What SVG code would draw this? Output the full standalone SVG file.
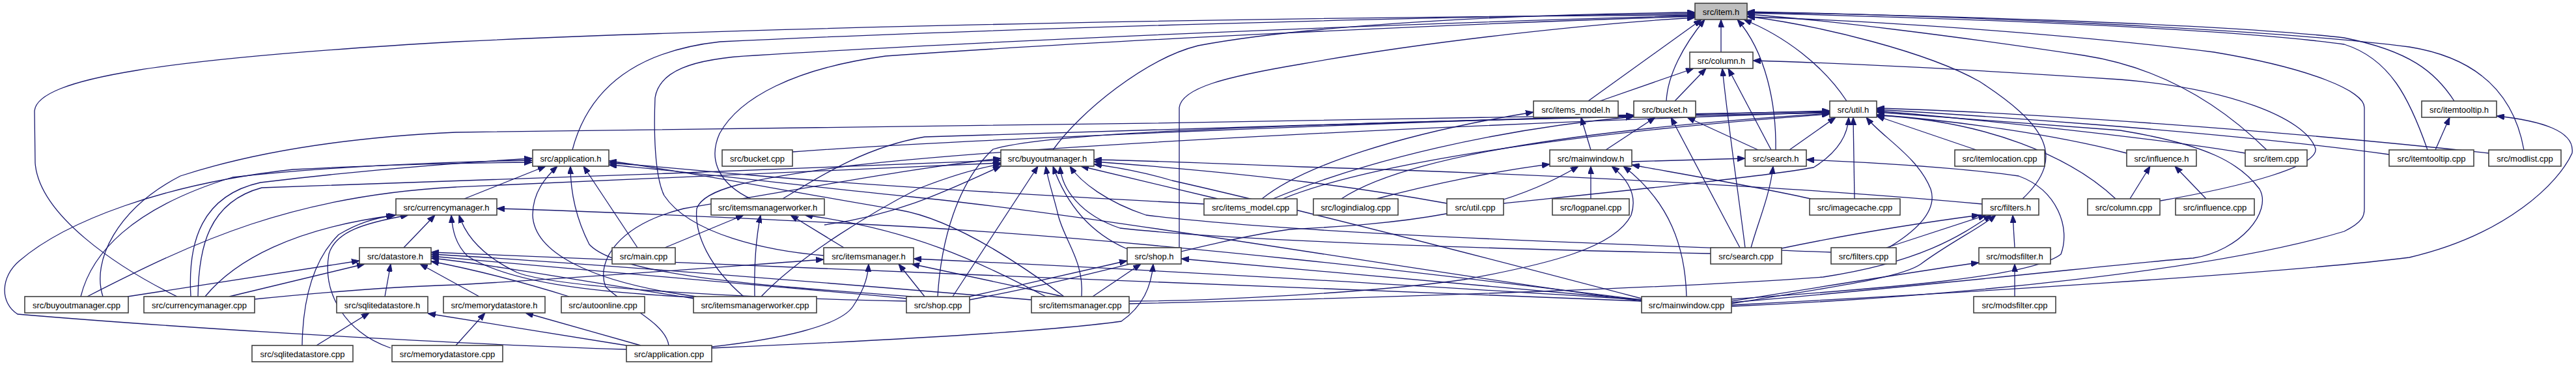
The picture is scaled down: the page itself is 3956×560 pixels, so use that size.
<svg xmlns="http://www.w3.org/2000/svg" width="3956" height="560" viewBox="0 0 3956 560">
<style>
.e{fill:none;stroke:#191970;stroke-width:1.3;marker-end:url(#ah)}
.n rect{fill:#fff;stroke:#404040;stroke-width:1.6}
.n text{font-family:"Liberation Sans",Arial,sans-serif;font-size:13px;fill:#000;text-anchor:middle}
.root rect{fill:#bfbfbf}
</style>
<defs>
<marker id="ah" markerWidth="12" markerHeight="9" refX="12" refY="4.5" orient="auto" markerUnits="userSpaceOnUse">
<path d="M0,0 L12,4.5 L0,9 z" fill="#191970" stroke="#191970" stroke-width="1"/>
</marker>
</defs>
<rect width="3956" height="560" fill="#fff"/>
<g id="edges">
<path class="e" d="M2643,80 L2643,30"/>
<path class="e" d="M2439,155 L2613,30"/>
<path class="e" d="M2559,155 C2561,115 2585,70 2618,30"/>
<path class="e" d="M2727,230 C2728,160 2712,80 2668,30"/>
<path class="e" d="M2836,155 C2800,100 2740,55 2678,30"/>
<path class="e" d="M3106,305 C3175,240 3140,190 3040,125 C2960,80 2800,40 2683,25"/>
<path class="e" d="M3481,230 C3420,170 3330,105 3200,85 C3000,55 2800,30 2683,22"/>
<path class="e" d="M3728,230 C3700,150 3670,90 3600,68 C3400,40 2900,25 2683,20"/>
<path class="e" d="M3769,155 C3740,110 3700,78 3600,58 C3400,35 2900,22 2683,19"/>
<path class="e" d="M3876,230 C3860,140 3800,88 3700,72 C3450,40 2900,22 2683,18"/>
<path class="e" d="M2659,470 C3000,455 3400,415 3600,355 C3630,340 3631,330 3631,320 L3631,165 C3631,140 3550,105 3400,80 C3200,55 2900,32 2683,26"/>
<path class="e" d="M879,230 C900,150 960,80 1106,64 C1500,45 2200,25 2603,21"/>
<path class="e" d="M1617,230 C1660,170 1760,90 1840,70 C2000,40 2300,22 2603,19"/>
<path class="e" d="M1811,380 L1811,165 C1815,135 1880,118 2000,98 C2200,62 2450,36 2603,27"/>
<path class="e" d="M272,455 C180,410 60,330 54,250 L53,170 C58,120 250,90 700,64 C1200,40 2000,26 2603,23"/>
<path class="e" d="M1265,392 C1180,385 1060,360 1020,300 C1005,270 1004,200 1006,150 C1012,110 1060,90 1160,85 C1400,70 2000,40 2603,24"/>
<path class="e" d="M1153,305 C1110,285 1085,250 1105,205 C1135,150 1220,105 1360,86 C1700,62 2200,38 2603,25"/>
<path class="e" d="M2457,155 L2601,105"/>
<path class="e" d="M2572,155 L2620,105"/>
<path class="e" d="M2680,380 C2670,300 2655,200 2645,105"/>
<path class="e" d="M2720,230 L2654,105"/>
<path class="e" d="M3318,308 C3450,285 3560,255 3556,228 C3540,180 3420,135 3256,122 C3000,105 2800,96 2692,93"/>
<path class="e" d="M2443,230 L2428,180"/>
<path class="e" d="M1938,305 C2000,255 2150,205 2355,172"/>
<path class="e" d="M2466,230 L2542,180"/>
<path class="e" d="M2672,380 L2566,180"/>
<path class="e" d="M2700,230 L2591,180"/>
<path class="e" d="M1217,233 C1500,212 2200,186 2509,177"/>
<path class="e" d="M1955,305 C2100,245 2300,198 2509,179"/>
<path class="e" d="M158,455 C140,400 180,320 277,270 C400,230 550,210 700,203 C1200,195 2300,185 2810,171"/>
<path class="e" d="M1440,455 C1445,370 1470,280 1525,229 C1600,205 1900,190 2810,173"/>
<path class="e" d="M1202,305 C1260,270 1330,225 1420,210 C1800,195 2400,182 2810,170"/>
<path class="e" d="M2060,305 C2150,245 2400,200 2810,174"/>
<path class="e" d="M1970,305 C2100,252 2400,205 2810,175"/>
<path class="e" d="M1142,455 C1090,410 1066,360 1070,320 C1080,290 1150,275 1300,255 C1600,220 2300,190 2810,172"/>
<path class="e" d="M2748,230 L2819,180"/>
<path class="e" d="M2309,312 C2500,292 2700,272 2785,257 C2825,232 2838,205 2839,180"/>
<path class="e" d="M2848,305 L2846,180"/>
<path class="e" d="M2900,380 C2950,350 2975,320 2965,290 C2945,240 2890,210 2866,180"/>
<path class="e" d="M2659,464 C3000,435 3300,400 3368,396 C3440,385 3490,325 3470,290 C3440,250 3390,222 3256,200 C3050,185 2950,178 2882,172"/>
<path class="e" d="M3035,230 L2882,178"/>
<path class="e" d="M3266,235 C3150,205 3000,185 2882,176"/>
<path class="e" d="M3249,305 C3180,240 3050,185 2882,177"/>
<path class="e" d="M3448,235 C3300,210 3000,180 2882,170"/>
<path class="e" d="M3669,237 C3400,200 3000,175 2882,168"/>
<path class="e" d="M3822,235 C3500,200 3100,172 2882,166"/>
<path class="e" d="M3740,230 L3762,180"/>
<path class="e" d="M2659,468 C3000,450 3500,420 3700,395 C3850,360 3930,280 3950,235 C3955,200 3900,185 3834,178"/>
<path class="e" d="M124,455 C140,390 200,320 357,272 C500,256 650,249 817,246"/>
<path class="e" d="M293,455 C288,370 310,300 400,280 C550,262 700,250 817,243"/>
<path class="e" d="M962,536 C700,528 300,505 27,482 C0,465 0,425 30,400 C100,340 250,282 450,260 C600,252 700,250 817,249"/>
<path class="e" d="M713,305 L838,255"/>
<path class="e" d="M1069,455 C900,432 820,385 818,330 C818,295 838,272 856,255"/>
<path class="e" d="M979,380 L896,255"/>
<path class="e" d="M1400,455 C1200,440 950,425 905,375 C882,330 876,290 876,255"/>
<path class="e" d="M1634,455 C1560,400 1460,335 1380,322 C1200,292 1050,262 935,247"/>
<path class="e" d="M1849,313 C1600,300 1300,282 1146,268 C1050,260 1000,254 935,250"/>
<path class="e" d="M2521,462 C2200,420 1700,332 1400,302 C1200,282 1050,262 935,253"/>
<path class="e" d="M134,455 C300,370 450,300 700,287 C1000,276 1300,262 1537,250"/>
<path class="e" d="M304,455 C305,380 320,310 402,288 C700,276 1200,262 1537,246"/>
<path class="e" d="M1027,530 C1022,495 960,470 930,440 C915,400 950,345 1050,320 C1250,287 1400,258 1537,243"/>
<path class="e" d="M1169,455 C1230,390 1350,320 1409,290 C1460,270 1500,258 1537,252"/>
<path class="e" d="M1266,345 C1380,330 1460,290 1537,255"/>
<path class="e" d="M1463,455 L1594,255"/>
<path class="e" d="M1661,455 C1665,400 1635,370 1625,330 C1618,300 1610,280 1606,255"/>
<path class="e" d="M1731,382 C1680,360 1640,320 1617,255"/>
<path class="e" d="M2627,389 C2300,382 1900,370 1720,350 C1660,330 1630,290 1628,255"/>
<path class="e" d="M2812,387 C2500,375 2000,360 1760,330 C1700,310 1660,280 1643,255"/>
<path class="e" d="M1870,305 L1660,255"/>
<path class="e" d="M3044,313 C2800,290 2400,268 2000,256 C1850,250 1750,246 1680,245"/>
<path class="e" d="M2521,458 C2300,400 2000,322 1800,277 C1750,262 1710,256 1680,252"/>
<path class="e" d="M2222,312 C2100,290 1950,268 1680,248"/>
<path class="e" d="M2443,305 L2443,255"/>
<path class="e" d="M2590,455 C2588,380 2565,310 2493,255"/>
<path class="e" d="M2114,305 C2200,282 2300,262 2380,252"/>
<path class="e" d="M2781,305 C2700,287 2600,270 2506,253"/>
<path class="e" d="M1734,462 C1850,462 2100,450 2248,429 C2380,405 2480,380 2505,330 C2515,300 2500,275 2475,255"/>
<path class="e" d="M1489,460 C1700,420 1850,370 1980,352 C2150,343 2300,330 2424,255"/>
<path class="e" d="M2506,248 L2680,243"/>
<path class="e" d="M2689,380 C2700,340 2718,300 2723,255"/>
<path class="e" d="M2659,459 C2900,442 3120,425 3165,390 C3180,350 3160,292 3100,270 C3000,256 2850,248 2774,245"/>
<path class="e" d="M3271,305 L3302,255"/>
<path class="e" d="M3388,305 L3340,255"/>
<path class="e" d="M620,380 L668,330"/>
<path class="e" d="M464,530 C465,460 480,400 520,360 C550,342 575,335 605,330"/>
<path class="e" d="M600,534 C530,510 495,450 505,390 C515,355 560,342 627,330"/>
<path class="e" d="M315,455 C360,400 450,350 608,330"/>
<path class="e" d="M1065,456 C900,448 780,432 718,393 C700,375 695,355 693,330"/>
<path class="e" d="M1392,462 C1100,456 850,440 794,418 C740,392 715,362 705,330"/>
<path class="e" d="M2521,460 C2200,420 1800,372 1400,348 C1100,332 900,324 763,320"/>
<path class="e" d="M1021,380 L1142,330"/>
<path class="e" d="M1159,455 C1158,410 1160,370 1168,330"/>
<path class="e" d="M1296,380 L1214,330"/>
<path class="e" d="M1606,455 C1500,400 1400,352 1236,330"/>
<path class="e" d="M3094,380 L3091,330"/>
<path class="e" d="M2736,381 C2850,357 2950,342 3040,330"/>
<path class="e" d="M2897,380 L3050,330"/>
<path class="e" d="M2659,466 C2800,442 2920,427 2950,405 C2990,375 3040,350 3065,330"/>
<path class="e" d="M1734,466 C2200,455 2600,440 2800,425 C2950,402 3010,362 3058,330"/>
<path class="e" d="M2659,462 C2800,440 2950,415 3039,403"/>
<path class="e" d="M3094,455 L3094,405"/>
<path class="e" d="M591,455 L600,405"/>
<path class="e" d="M736,455 L645,405"/>
<path class="e" d="M196,455 L552,400"/>
<path class="e" d="M352,455 L560,405"/>
<path class="e" d="M874,455 C800,432 720,412 662,401"/>
<path class="e" d="M1065,458 C900,432 750,405 662,396"/>
<path class="e" d="M1392,458 C1100,430 800,404 662,393"/>
<path class="e" d="M1584,460 C1200,428 850,400 662,390"/>
<path class="e" d="M2521,462 C2000,440 1200,412 662,387"/>
<path class="e" d="M391,459 C500,448 600,440 700,437 C900,426 1100,410 1265,398"/>
<path class="e" d="M1093,532 C1200,520 1290,500 1310,470 C1330,440 1333,420 1334,405"/>
<path class="e" d="M1420,455 L1380,405"/>
<path class="e" d="M1633,455 L1400,405"/>
<path class="e" d="M2521,460 C2200,440 1800,415 1403,397"/>
<path class="e" d="M1489,455 L1731,400"/>
<path class="e" d="M1678,455 L1752,405"/>
<path class="e" d="M1093,534 C1300,525 1600,510 1722,493 C1755,470 1768,440 1771,405"/>
<path class="e" d="M2521,460 C2200,430 1950,407 1814,397"/>
<path class="e" d="M486,530 L567,480"/>
<path class="e" d="M962,530 L657,481"/>
<path class="e" d="M700,530 L745,480"/>
<path class="e" d="M984,530 L807,480"/>
</g>
<g id="n-item_h" class="n root"><rect x="2603" y="5" width="80" height="25"/><text x="2643" y="22.5">src/item.h</text></g>
<g id="n-column_h" class="n"><rect x="2595" y="80" width="97" height="25"/><text x="2643.5" y="97.5">src/column.h</text></g>
<g id="n-items_model_h" class="n"><rect x="2355" y="155" width="130" height="25"/><text x="2420" y="172.5">src/items_model.h</text></g>
<g id="n-bucket_h" class="n"><rect x="2509" y="155" width="95" height="25"/><text x="2556.5" y="172.5">src/bucket.h</text></g>
<g id="n-util_h" class="n"><rect x="2810" y="155" width="72" height="25"/><text x="2846" y="172.5">src/util.h</text></g>
<g id="n-itemtooltip_h" class="n"><rect x="3719" y="155" width="115" height="25"/><text x="3776.5" y="172.5">src/itemtooltip.h</text></g>
<g id="n-application_h" class="n"><rect x="818" y="230" width="117" height="25"/><text x="876.5" y="247.5">src/application.h</text></g>
<g id="n-bucket_cpp" class="n"><rect x="1109" y="230" width="108" height="25"/><text x="1163" y="247.5">src/bucket.cpp</text></g>
<g id="n-buyoutmanager_h" class="n"><rect x="1537" y="230" width="143" height="25"/><text x="1608.5" y="247.5">src/buyoutmanager.h</text></g>
<g id="n-mainwindow_h" class="n"><rect x="2380" y="230" width="126" height="25"/><text x="2443" y="247.5">src/mainwindow.h</text></g>
<g id="n-search_h" class="n"><rect x="2680" y="230" width="94" height="25"/><text x="2727" y="247.5">src/search.h</text></g>
<g id="n-itemlocation_cpp" class="n"><rect x="3002" y="230" width="138" height="25"/><text x="3071" y="247.5">src/itemlocation.cpp</text></g>
<g id="n-influence_h" class="n"><rect x="3266" y="230" width="107" height="25"/><text x="3319.5" y="247.5">src/influence.h</text></g>
<g id="n-item_cpp" class="n"><rect x="3448" y="230" width="95" height="25"/><text x="3495.5" y="247.5">src/item.cpp</text></g>
<g id="n-itemtooltip_cpp" class="n"><rect x="3669" y="230" width="130" height="25"/><text x="3734" y="247.5">src/itemtooltip.cpp</text></g>
<g id="n-modlist_cpp" class="n"><rect x="3822" y="230" width="111" height="25"/><text x="3877.5" y="247.5">src/modlist.cpp</text></g>
<g id="n-currencymanager_h" class="n"><rect x="608" y="305" width="155" height="25"/><text x="685.5" y="322.5">src/currencymanager.h</text></g>
<g id="n-itemsmanagerworker_h" class="n"><rect x="1092" y="305" width="174" height="25"/><text x="1179" y="322.5">src/itemsmanagerworker.h</text></g>
<g id="n-items_model_cpp" class="n"><rect x="1849" y="305" width="143" height="25"/><text x="1920.5" y="322.5">src/items_model.cpp</text></g>
<g id="n-logindialog_cpp" class="n"><rect x="2017" y="305" width="130" height="25"/><text x="2082" y="322.5">src/logindialog.cpp</text></g>
<g id="n-util_cpp" class="n"><rect x="2222" y="305" width="87" height="25"/><text x="2265.5" y="322.5">src/util.cpp</text></g>
<g id="n-logpanel_cpp" class="n"><rect x="2384" y="305" width="118" height="25"/><text x="2443" y="322.5">src/logpanel.cpp</text></g>
<g id="n-imagecache_cpp" class="n"><rect x="2779" y="305" width="139" height="25"/><text x="2848.5" y="322.5">src/imagecache.cpp</text></g>
<g id="n-filters_h" class="n"><rect x="3044" y="305" width="87" height="25"/><text x="3087.5" y="322.5">src/filters.h</text></g>
<g id="n-column_cpp" class="n"><rect x="3206" y="305" width="111" height="25"/><text x="3261.5" y="322.5">src/column.cpp</text></g>
<g id="n-influence_cpp" class="n"><rect x="3341" y="305" width="121" height="25"/><text x="3401.5" y="322.5">src/influence.cpp</text></g>
<g id="n-datastore_h" class="n"><rect x="552" y="380" width="110" height="25"/><text x="607" y="397.5">src/datastore.h</text></g>
<g id="n-main_cpp" class="n"><rect x="940" y="380" width="97" height="25"/><text x="988.5" y="397.5">src/main.cpp</text></g>
<g id="n-itemsmanager_h" class="n"><rect x="1265" y="380" width="138" height="25"/><text x="1334" y="397.5">src/itemsmanager.h</text></g>
<g id="n-shop_h" class="n"><rect x="1731" y="380" width="83" height="25"/><text x="1772.5" y="397.5">src/shop.h</text></g>
<g id="n-search_cpp" class="n"><rect x="2627" y="380" width="109" height="25"/><text x="2681.5" y="397.5">src/search.cpp</text></g>
<g id="n-filters_cpp" class="n"><rect x="2812" y="380" width="100" height="25"/><text x="2862" y="397.5">src/filters.cpp</text></g>
<g id="n-modsfilter_h" class="n"><rect x="3039" y="380" width="110" height="25"/><text x="3094" y="397.5">src/modsfilter.h</text></g>
<g id="n-buyoutmanager_cpp" class="n"><rect x="38" y="455" width="159" height="25"/><text x="117.5" y="472.5">src/buyoutmanager.cpp</text></g>
<g id="n-currencymanager_cpp" class="n"><rect x="221" y="455" width="170" height="25"/><text x="306" y="472.5">src/currencymanager.cpp</text></g>
<g id="n-sqlitedatastore_h" class="n"><rect x="517" y="455" width="140" height="25"/><text x="587" y="472.5">src/sqlitedatastore.h</text></g>
<g id="n-memorydatastore_h" class="n"><rect x="681" y="455" width="156" height="25"/><text x="759" y="472.5">src/memorydatastore.h</text></g>
<g id="n-autoonline_cpp" class="n"><rect x="862" y="455" width="128" height="25"/><text x="926" y="472.5">src/autoonline.cpp</text></g>
<g id="n-itemsmanagerworker_cpp" class="n"><rect x="1065" y="455" width="189" height="25"/><text x="1159.5" y="472.5">src/itemsmanagerworker.cpp</text></g>
<g id="n-shop_cpp" class="n"><rect x="1392" y="455" width="97" height="25"/><text x="1440.5" y="472.5">src/shop.cpp</text></g>
<g id="n-itemsmanager_cpp" class="n"><rect x="1584" y="455" width="150" height="25"/><text x="1659" y="472.5">src/itemsmanager.cpp</text></g>
<g id="n-mainwindow_cpp" class="n"><rect x="2521" y="455" width="138" height="25"/><text x="2590" y="472.5">src/mainwindow.cpp</text></g>
<g id="n-modsfilter_cpp" class="n"><rect x="3031" y="455" width="126" height="25"/><text x="3094" y="472.5">src/modsfilter.cpp</text></g>
<g id="n-sqlitedatastore_cpp" class="n"><rect x="387" y="530" width="155" height="25"/><text x="464.5" y="547.5">src/sqlitedatastore.cpp</text></g>
<g id="n-memorydatastore_cpp" class="n"><rect x="602" y="530" width="170" height="25"/><text x="687" y="547.5">src/memorydatastore.cpp</text></g>
<g id="n-application_cpp" class="n"><rect x="962" y="530" width="131" height="25"/><text x="1027.5" y="547.5">src/application.cpp</text></g>
</svg>
